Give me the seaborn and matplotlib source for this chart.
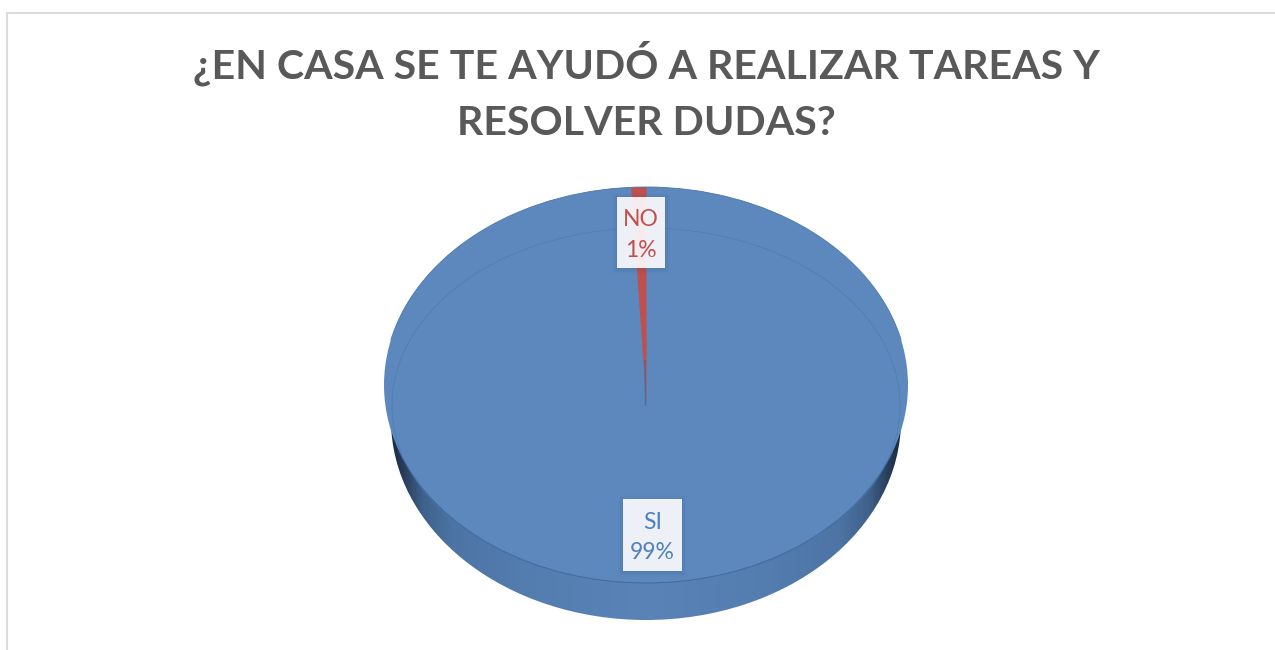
import numpy as np
import matplotlib
matplotlib.use("Agg")
import matplotlib.pyplot as plt
from matplotlib.patches import Ellipse, Rectangle, Arc
from matplotlib.path import Path
from matplotlib.transforms import Affine2D
from matplotlib.colors import LinearSegmentedColormap
import seaborn as sns

sns.set_theme(style="white")
plt.rcParams["font.family"] = ["Lato", "DejaVu Sans"]

title = "¿EN CASA SE TE AYUDÓ A REALIZAR TAREAS Y\nRESOLVER DUDAS?"
categories = ["SI", "NO"]
values = [99, 1]
colors = ["#5C88BE", "#C0504D"]
text_colors = ["#4F81BD", "#C0504D"]

W, H = 1275, 650
fig = plt.figure(figsize=(W / 100, H / 100), dpi=100, facecolor="white")

bg = fig.add_axes([0, 0, 1, 1])
bg.set_xlim(0, W)
bg.set_ylim(H, 0)
bg.axis("off")

# chart frame
bg.plot([6.5, 6.5, W], [H, 12.5, 12.5], color="#DCDCDC", lw=1.5, solid_joinstyle="miter")

bg.text(646, 91, title, ha="center", va="center", fontsize=29.6, fontweight="bold",
        color="#595959", linespacing=1.64)

# side wall of the disc
wall_clip = Affine2D().scale(255, 200).translate(646, 420) + bg.transData
cmap = LinearSegmentedColormap.from_list(
    "wall",
    [(0, "#1C2A3E"), (0.025, "#2A405E"), (0.06, "#3F618B"), (0.12, "#4D74A4"), (0.25, "#537CAF"),
     (0.5, "#5A84B8"), (0.75, "#537CAF"), (0.88, "#4D74A4"), (0.94, "#3F618B"), (0.975, "#2A405E"), (1, "#1C2A3E")],
)
grad = np.linspace(0, 1, 600).reshape(1, -1)
im = bg.imshow(grad, cmap=cmap, extent=(391, 901, 640, 380), aspect="auto", zorder=1)
im.set_clip_path(Path.unit_circle(), wall_clip)
bg.set_xlim(0, W)
bg.set_ylim(H, 0)

# top face
top = Ellipse((646, 385), 524, 396, fc=colors[0], ec="none", zorder=2)
bg.add_patch(top)

# pie on the top face, cut to the top ellipse
ax = fig.add_axes([(646.5 - 245) / W, 1 - (405 + 218) / H, 490 / W, 436 / H])
ax.patch.set_alpha(0)
wedges, _ = ax.pie(values, colors=colors, startangle=93.6, radius=1, center=(0, 0),
                   wedgeprops={"linewidth": 0})
ax.set_aspect("auto")
ax.set_xlim(-1, 1)
ax.set_ylim(-1, 1)
ax.set_zorder(2)
top_clip = Affine2D().scale(262, 198).translate(646, 385) + bg.transData
for w in wedges:
    w.set_clip_on(True)
    w.set_clip_path(Path.unit_circle(), top_clip)

over = fig.add_axes([0, 0, 1, 1])
over.set_xlim(0, W)
over.set_ylim(H, 0)
over.axis("off")
over.set_zorder(3)

# bevel outlines: faint inner ellipse, darker rim along the lower edge, thin seam at the slice
over.add_patch(Ellipse((646, 405.5), 508, 355, fc="none", ec="#4A76AB", lw=0.5, alpha=0.7))
over.add_patch(Arc((646, 385), 524, 396, theta1=15, theta2=165, ec="#3F6A9F", lw=0.6))
over.add_patch(Arc((646, 385), 524, 396, theta1=190, theta2=350, ec="#4A76AB", lw=0.6))
over.plot([645, 645.5], [360, 406], color="#3F6797", lw=1.0, alpha=0.7, solid_capstyle="butt")

# data labels
label_boxes = [(623, 499, 59, 72), (617, 197, 48, 71)]
label_name_y = [522.5, 220]
label_val_y = [552.5, 250.5]
for name, val, tc, (x, y, w, h), ny, vy in zip(categories, values, text_colors, label_boxes, label_name_y, label_val_y):
    for off, a in ((6, 0.03), (4, 0.05), (2, 0.07)):
        over.add_patch(Rectangle((x - off + 1, y - off + 2), w + 2 * off - 2, h + 2 * off - 2,
                                 fc="#2B4A72", ec="none", alpha=a))
    over.add_patch(Rectangle((x, y), w, h, fc="white", ec="none", alpha=0.9))
    over.text(x + w / 2, ny, name, ha="center", va="center", fontsize=16.5, color=tc)
    over.text(x + w / 2, vy, f"{val}%", ha="center", va="center", fontsize=16.5, color=tc)

fig.savefig("out.png", dpi=100, facecolor="white")
